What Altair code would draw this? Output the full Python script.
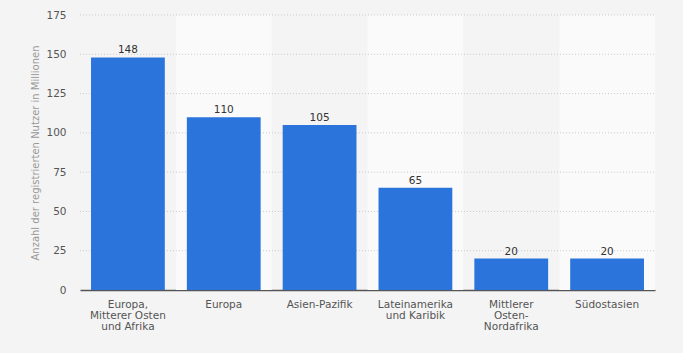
import altair as alt
import pandas as pd

categories = ["Europa,\nMitterer Osten\nund Afrika", "Europa", "Asien-Pazifik",
              "Lateinamerika\nund Karibik", "Mittlerer\nOsten-\nNordafrika", "Südostasien"]
values = [148, 110, 105, 65, 20, 20]
labels = ["148", "110", "105", "65", "20", "20"]
band_flags = [0, 1, 0, 1, 0, 1]
y_ticks = [0, 25, 50, 75, 100, 125, 150, 175]

df = pd.DataFrame({"cat": categories, "value": values, "label": labels,
                   "band": band_flags, "top": [175] * len(categories)})
grid_df = pd.DataFrame({"t": y_ticks[1:]})

FONT = "DejaVu Sans"
PI = 0.23

xscale = alt.Scale(domain=categories, paddingInner=PI, paddingOuter=0.115)
yscale = alt.Scale(domain=[0, 175], nice=False)

x_axis = alt.Axis(labelAngle=0, ticks=False, domain=True, domainColor="#555555",
                  domainWidth=1.5, labelFont=FONT, labelFontSize=10.5,
                  labelColor="#555555", labelPadding=9, labelLineHeight=11,
                  labelExpr="split(datum.value, '\\n')", labelBaseline="top")
y_axis = alt.Axis(values=y_ticks, grid=False, ticks=False, domain=False,
                  labelOverlap=False,
                  labelFont=FONT, labelFontSize=10.5, labelColor="#555555",
                  labelPadding=14, titleFont=FONT, titleFontSize=10,
                  titleColor="#999999", titleFontWeight="normal", titlePadding=5)
y_title = "Anzahl der registrierten Nutzer in Millionen"

x_enc = alt.X("cat:N", scale=xscale, sort=categories, title=None, axis=x_axis)

bands = alt.Chart(df).transform_filter("datum.band == 1").mark_bar(
    color="#fafafa", width=alt.RelativeBandSize(1 / (1 - PI))
).encode(
    x=x_enc,
    y=alt.Y("top:Q", scale=yscale, title=y_title, axis=y_axis),
    y2=alt.datum(0),
)

grid = alt.Chart(grid_df).mark_rule(color="#cccccc", strokeDash=[1, 2], strokeWidth=1).encode(
    y=alt.Y("t:Q", scale=yscale, title=y_title, axis=y_axis),
    x=alt.value(0), x2=alt.value(575),
)

bars = alt.Chart(df).mark_bar(color="#2a74dc").encode(
    x=x_enc,
    y=alt.Y("value:Q", scale=yscale, title=y_title, axis=y_axis),
)

text = alt.Chart(df).mark_text(dy=-4, baseline="alphabetic", font=FONT, fontSize=10.5,
                               color="#333333").encode(
    x=alt.X("cat:N", scale=xscale, sort=categories, title=None, axis=x_axis),
    y=alt.Y("value:Q", scale=yscale, title=y_title, axis=y_axis),
    text="label:N",
)

chart = alt.layer(bands, grid, bars, text).properties(
    width=575, height=275,
    autosize=alt.AutoSizeParams(type="none"),
    padding={"left": 80, "top": 15, "right": 28, "bottom": 63},
    background="#f4f4f4",
).configure_view(stroke=None)

chart.save("out.html", embed_options={"renderer": "svg", "actions": False})
